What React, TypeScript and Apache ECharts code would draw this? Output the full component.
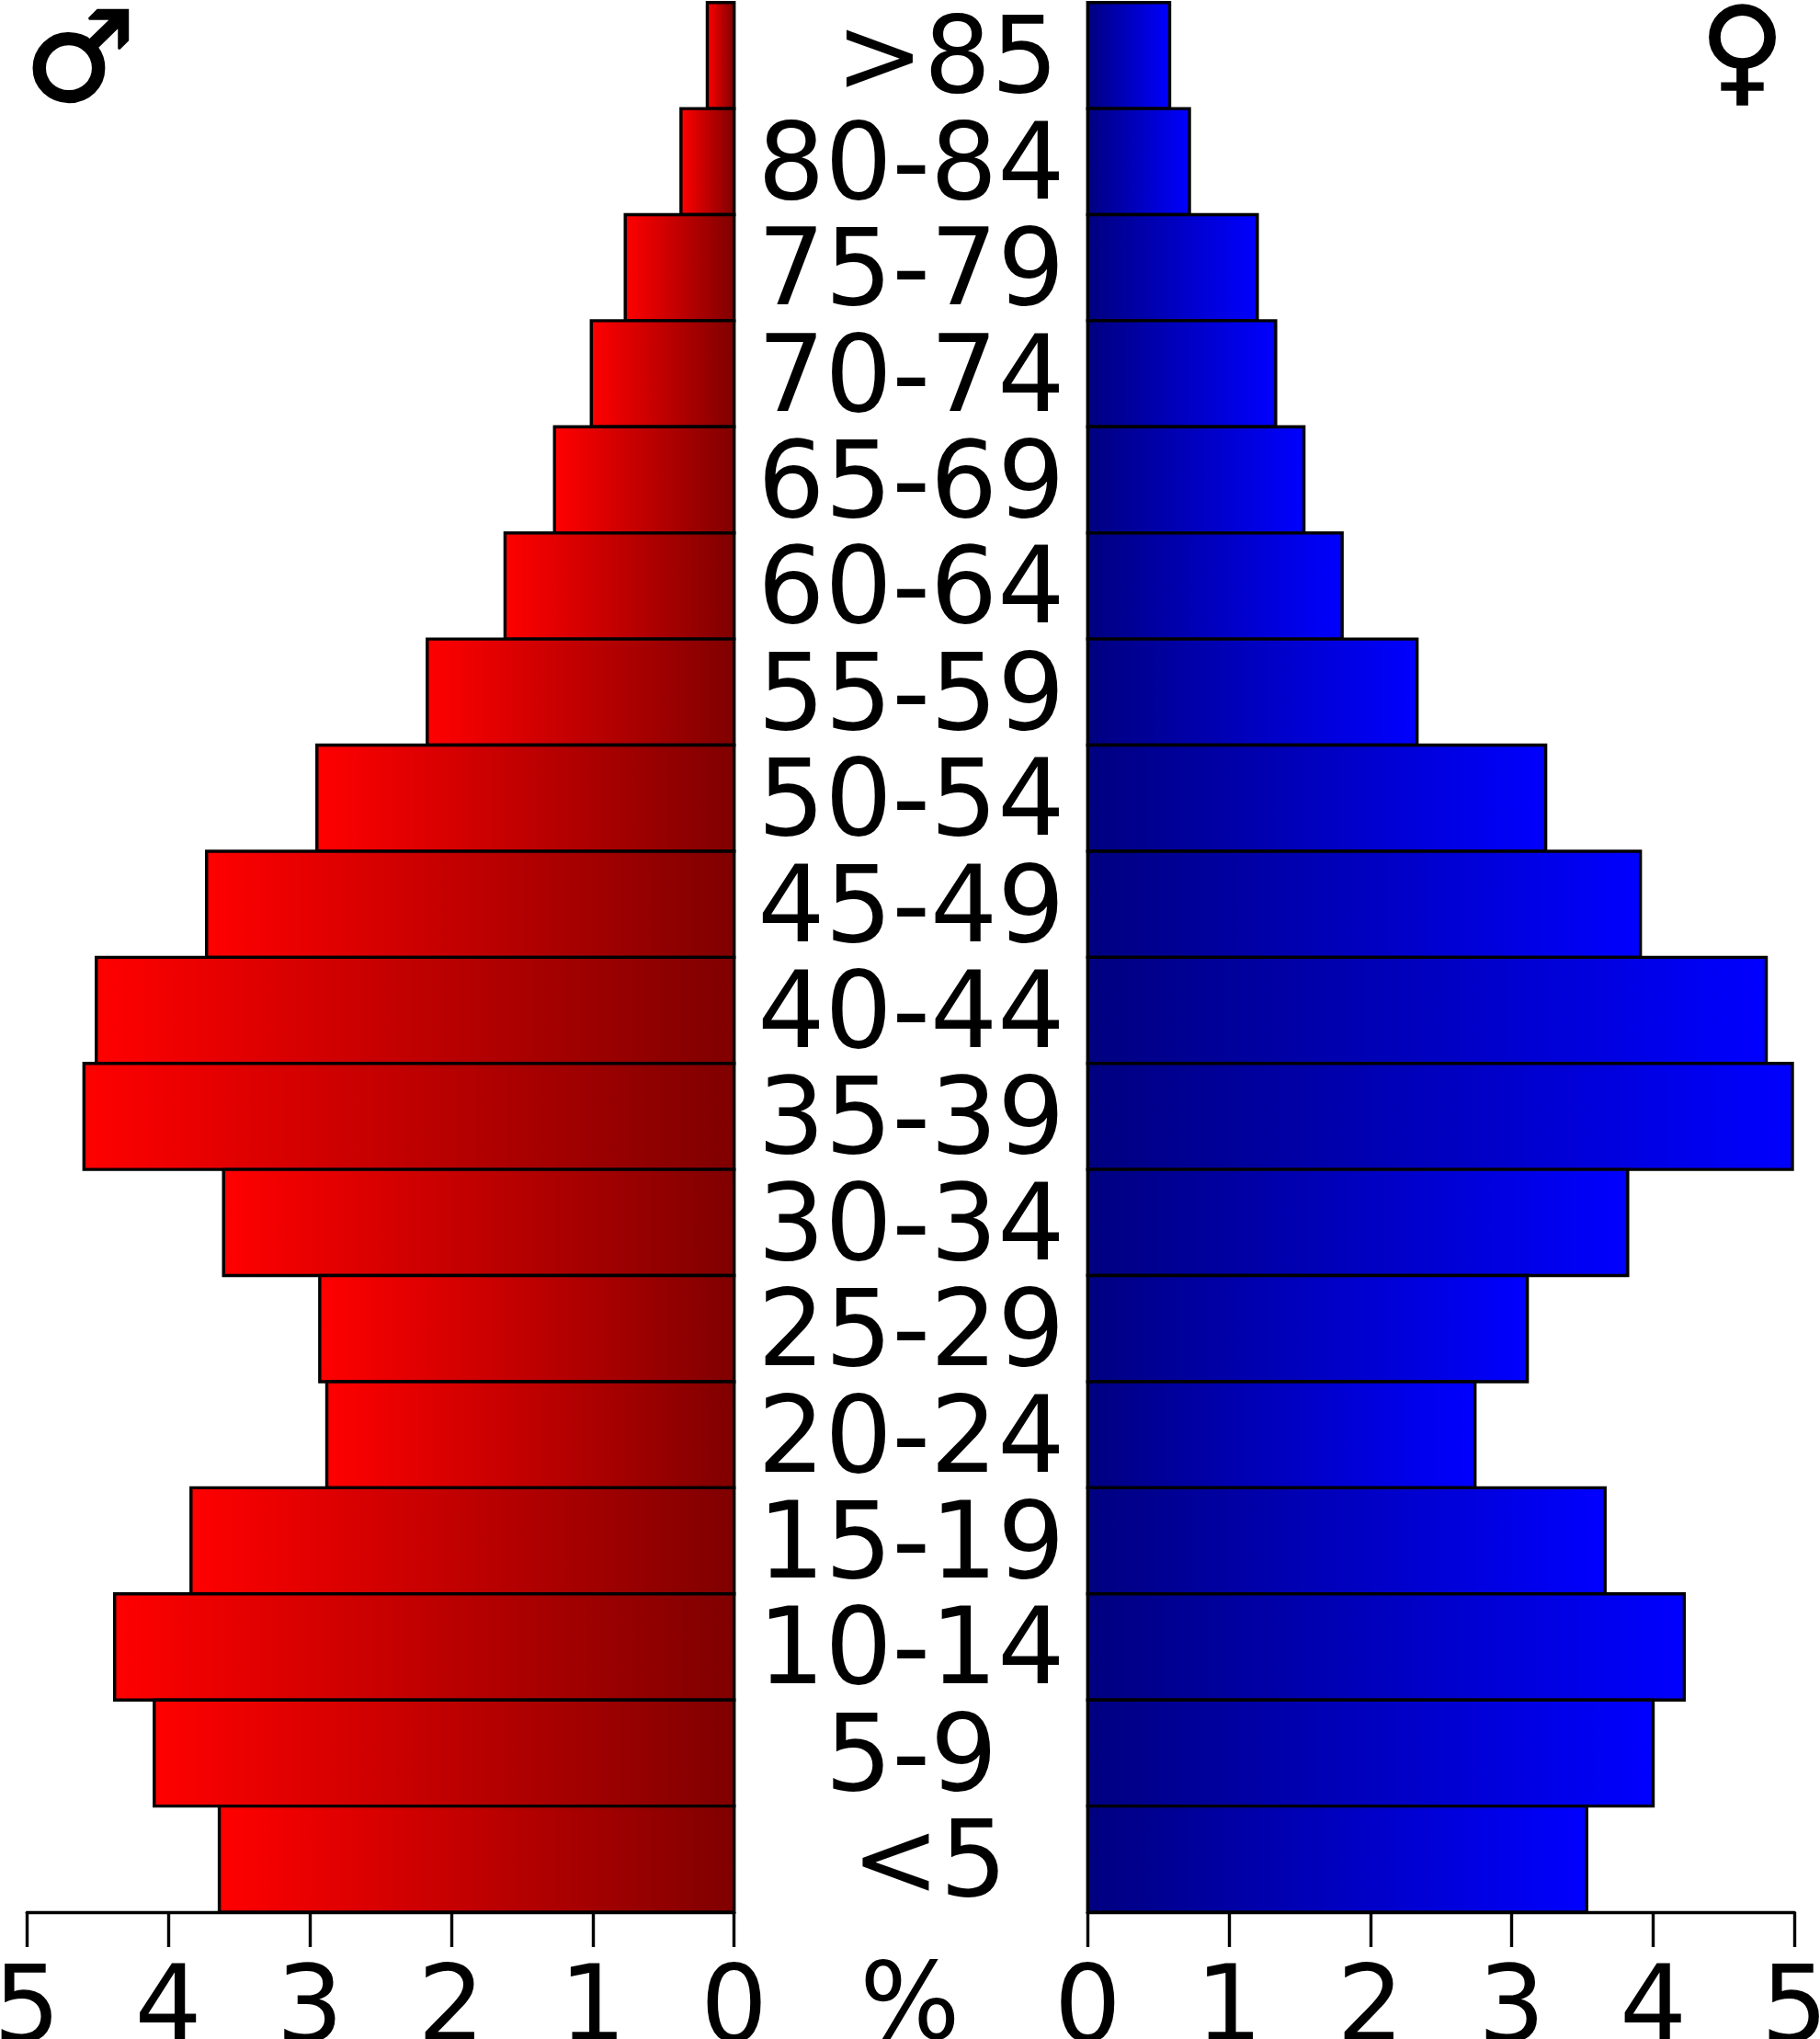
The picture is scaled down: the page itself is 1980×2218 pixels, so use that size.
import React, { useEffect, useRef } from "react";
import * as echarts from "echarts";

const ageGroups = [">85","80-84","75-79","70-74","65-69","60-64","55-59","50-54","45-49","40-44","35-39","30-34","25-29","20-24","15-19","10-14","5-9","<5"];
const maleValues = [0.19,0.376,0.77,1.01,1.27,1.62,2.17,2.95,3.73,4.51,4.597,3.61,2.93,2.88,3.84,4.38,4.10,3.64];
const femaleValues = [0.58,0.72,1.20,1.33,1.53,1.80,2.33,3.24,3.91,4.80,4.985,3.82,3.11,2.74,3.66,4.22,4.00,3.53];
const shiftedLabels: Record<string, number> = { ">85": 1030, "<5": 1011 };

const FONT = "DejaVu Sans";
const GRID_TOP = 2.7;
const GRID_H = 2077.3;
const LEFT_X = 29.3;
const LEFT_W = 769.4;
const RIGHT_X = 1183.3;
const RIGHT_W = 769;
const LW = 3.4;
const FS = 115;

const grad = (from: string, to: string) => ({
  type: "linear", x: 0, y: 0, x2: 1, y2: 0,
  colorStops: [{ offset: 0, color: from }, { offset: 1, color: to }],
});

const xAxis = (gridIndex: number, inverse: boolean) => ({
  type: "value", gridIndex, inverse, min: 0, max: 5, interval: 1, position: "bottom",
  splitLine: { show: false },
  axisLine: { show: true, onZero: false, lineStyle: { color: "#000", width: LW } },
  axisTick: { show: true, length: 38, lineStyle: { color: "#000", width: LW } },
  axisLabel: { show: true, color: "#000", fontFamily: FONT, fontSize: FS, margin: 42, showMinLabel: true, showMaxLabel: true, hideOverlap: false },
});

const barSeries = (index: number, values: number[], fill: object) => ({
  type: "custom", xAxisIndex: index, yAxisIndex: index, coordinateSystem: "cartesian2d",
  clip: false,
  encode: { x: 0, y: 1 },
  data: values.map((v, i) => [v, ageGroups[i]]),
  renderItem: (_: unknown, api: any) => {
    const row = api.value(1);
    const from = api.coord([0, row]);
    const to = api.coord([api.value(0), row]);
    const h = api.size([0, 1])[1];
    return {
      type: "rect",
      shape: { x: Math.min(from[0], to[0]), y: from[1] - h / 2, width: Math.abs(to[0] - from[0]), height: h },
      style: { fill, stroke: "#000", lineWidth: LW },
    };
  },
});

export default function App() {
  const ref = useRef<HTMLDivElement>(null);
  useEffect(() => {
    const chart = echarts.init(ref.current!, undefined, { renderer: "svg" });
    const rowH = GRID_H / ageGroups.length;
    chart.setOption({
      animation: false,
      backgroundColor: "#fff",
      grid: [
        { left: LEFT_X, top: GRID_TOP, width: LEFT_W, height: GRID_H, containLabel: false, outerBoundsMode: "none" },
        { left: RIGHT_X, top: GRID_TOP, width: RIGHT_W, height: GRID_H, containLabel: false, outerBoundsMode: "none" },
      ],
      xAxis: [xAxis(0, true), xAxis(1, false)],
      yAxis: [
        { type: "category", gridIndex: 0, inverse: true, data: ageGroups, show: false },
        {
          type: "category", gridIndex: 1, inverse: true, position: "left",
          data: ageGroups,
          axisLine: { show: false }, axisTick: { show: false },
          axisLabel: {
            show: true, interval: 0, color: "#000", fontFamily: FONT, fontSize: FS, align: "center", margin: 192,
            formatter: (v: string) => (shiftedLabels[v] ? "" : v),
          },
        },
      ],
      series: [
        barSeries(0, maleValues, grad("#ff0000", "#800000")),
        barSeries(1, femaleValues, grad("#000080", "#0000ff")),
      ],
      graphic: [
        ...ageGroups.filter((g) => shiftedLabels[g]).map((g) => ({
          type: "text", x: shiftedLabels[g], y: GRID_TOP + rowH * (ageGroups.indexOf(g) + 0.5),
          style: { text: g, fill: "#000", font: `${FS}px "${FONT}"`, align: "center", verticalAlign: "middle" },
        })),
        { type: "text", x: 990, y: 2119, style: { text: "%", fill: "#000", font: `${FS}px "${FONT}"`, align: "center", verticalAlign: "top" } },
        { type: "text", x: 87, y: 61.5, style: { text: "♂", fill: "#000", stroke: "#000", lineWidth: 2.5, font: `136px "${FONT}"`, align: "center", verticalAlign: "middle" } },
        { type: "text", x: 1895.5, y: 53.5, style: { text: "♀", fill: "#000", stroke: "#000", lineWidth: 1.5, font: `127px "${FONT}"`, align: "center", verticalAlign: "middle" } },
      ],
    });
    return () => chart.dispose();
  }, []);
  return <div ref={ref} style={{ position: "absolute", left: 0, top: 0, width: 1980, height: 2218 }} />;
}
